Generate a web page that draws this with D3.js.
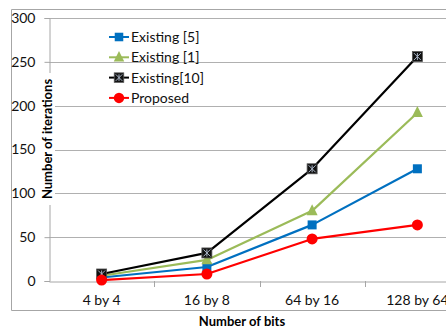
<!DOCTYPE html>
<html>
<head>
<meta charset="utf-8">
<script src="https://cdn.jsdelivr.net/npm/d3@7"></script>
<style>
  html, body { margin: 0; padding: 0; background: #fff; }
  svg { display: block; font-family: Lato, "Open Sans", sans-serif; }
</style>
</head>
<body>
<svg id="chart" width="446" height="329"></svg>
<script>
// Bit-width configurations on the x axis
const categories = ["4 by 4", "16 by 8", "64 by 16", "128 by 64"];
// Iteration counts for each method
const existing5 = [4, 16, 64, 128];
const existing1 = [6, 24, 80, 192];
const existing10 = [8, 32, 128, 256];
const proposed = [1, 8, 48, 64];
const yTicks = [0, 50, 100, 150, 200, 250, 300];

const series = [
  { name: "Existing [5]", values: existing5, color: "#0070C0", marker: "square" },
  { name: "Existing [1]", values: existing1, color: "#9BBB59", marker: "triangle" },
  { name: "Existing[10]", values: existing10, color: "#000000", marker: "star" },
  { name: "Proposed", values: proposed, color: "#FF0000", marker: "circle" }
];

const svg = d3.select("#chart");
const plot = { left: 49, right: 470, top: 18, bottom: 281 };

const x = d3.scaleBand().domain(categories).range([plot.left, plot.right]);
const y = d3.scaleLinear().domain([0, 300]).range([plot.bottom, plot.top]);

// Outer chart border
svg.append("path")
  .attr("d", `M460,9.5 H11.5 V310.5 H460`)
  .attr("fill", "none").attr("stroke", "#a6a6a6").attr("stroke-width", 1);

// Horizontal gridlines
svg.append("g").selectAll("line").data(yTicks.filter(d => d > 0)).join("line")
  .attr("x1", plot.left).attr("x2", plot.right)
  .attr("y1", d => Math.round(y(d)) + 0.5).attr("y2", d => Math.round(y(d)) + 0.5)
  .attr("stroke", "#b0b0b0").attr("stroke-width", 1);

// Y axis
const yAxis = svg.append("g")
  .attr("transform", `translate(${plot.left + 0.5},0)`)
  .call(d3.axisLeft(y).tickValues(yTicks).tickSize(5).tickPadding(9));
yAxis.select(".domain").attr("stroke", "#a6a6a6");
yAxis.selectAll(".tick line").attr("stroke", "#a6a6a6");
yAxis.selectAll(".tick text").attr("font-size", 14).attr("fill", "#111")
  .attr("font-family", "Lato, sans-serif");

// X axis
const xAxis = svg.append("g")
  .attr("transform", `translate(0,${Math.round(y(0)) + 0.5})`)
  .call(d3.axisBottom(x).tickSize(0).tickPadding(14));
xAxis.select(".domain").attr("stroke", "#a6a6a6");
xAxis.selectAll(".tick text").attr("font-size", 14).attr("fill", "#111")
  .attr("font-family", "Lato, sans-serif");
// Tick marks between categories
svg.append("g").selectAll("line").data(categories.slice(1)).join("line")
  .attr("x1", d => Math.round(x(d)) + 0.5).attr("x2", d => Math.round(x(d)) + 0.5)
  .attr("y1", Math.round(y(0))).attr("y2", Math.round(y(0)) + 6)
  .attr("stroke", "#a6a6a6");

// Axis titles
svg.append("text")
  .attr("x", 242).attr("y", 326)
  .attr("text-anchor", "middle").attr("font-weight", "bold").attr("font-size", 13)
  .attr("fill", "#000").text("Number of bits");

const yTitle = svg.append("g").attr("transform", "translate(47,139) rotate(-90)");
yTitle.append("rect").attr("x", -66).attr("y", -9).attr("width", 132).attr("height", 17).attr("fill", "#fff");
yTitle.append("text")
  .attr("x", 0).attr("y", 5)
  .attr("text-anchor", "middle").attr("font-weight", "bold").attr("font-size", 13)
  .attr("fill", "#000").text("Number of iterations");

// Marker drawing
function drawMarker(g, type, color, cx, cy, scale = 1) {
  if (type === "square") {
    const s = 9 * scale;
    g.append("rect").attr("x", cx - s / 2).attr("y", cy - s / 2).attr("width", s).attr("height", s)
      .attr("fill", color);
  } else if (type === "triangle") {
    const s = 11 * scale;
    g.append("path")
      .attr("d", `M${cx},${cy - s * 0.6} L${cx + s / 2},${cy + s * 0.4} L${cx - s / 2},${cy + s * 0.4} Z`)
      .attr("fill", color);
  } else if (type === "circle") {
    g.append("circle").attr("cx", cx).attr("cy", cy).attr("r", 5.5 * scale).attr("fill", color);
  } else if (type === "star") {
    const s = 10 * scale, h = s / 2, k = h - 1.5;
    g.append("rect").attr("x", cx - h).attr("y", cy - h).attr("width", s).attr("height", s)
      .attr("fill", "#111").attr("stroke", "#555").attr("stroke-width", 0.8);
    g.append("path")
      .attr("d", `M${cx - k},${cy - k} L${cx + k},${cy + k} M${cx + k},${cy - k} L${cx - k},${cy + k} M${cx},${cy - k} V${cy + k}`)
      .attr("stroke", "#a9b4c6").attr("stroke-width", 1);
  }
}

const line = d3.line()
  .x((d, i) => x(categories[i]) + x.bandwidth() / 2)
  .y(d => y(d));

// Series lines and markers
series.forEach(s => {
  const g = svg.append("g");
  g.append("path").datum(s.values).attr("d", line)
    .attr("fill", "none").attr("stroke", s.color).attr("stroke-width", 2.2)
    .attr("stroke-linejoin", "round");
  s.values.forEach((v, i) => {
    drawMarker(g, s.marker, s.color, x(categories[i]) + x.bandwidth() / 2, y(v));
  });
});

// Legend
const legend = svg.append("g");
series.forEach((s, i) => {
  const ly = 37 + i * 20.3;
  legend.append("line").attr("x1", 109).attr("x2", 129).attr("y1", ly).attr("y2", ly)
    .attr("stroke", s.color).attr("stroke-width", 2);
  drawMarker(legend, s.marker, s.color, 119, ly, 0.95);
  legend.append("text").attr("x", 131).attr("y", ly + 5)
    .attr("font-size", 14).attr("fill", "#111").text(s.name);
});
</script>
</body>
</html>
